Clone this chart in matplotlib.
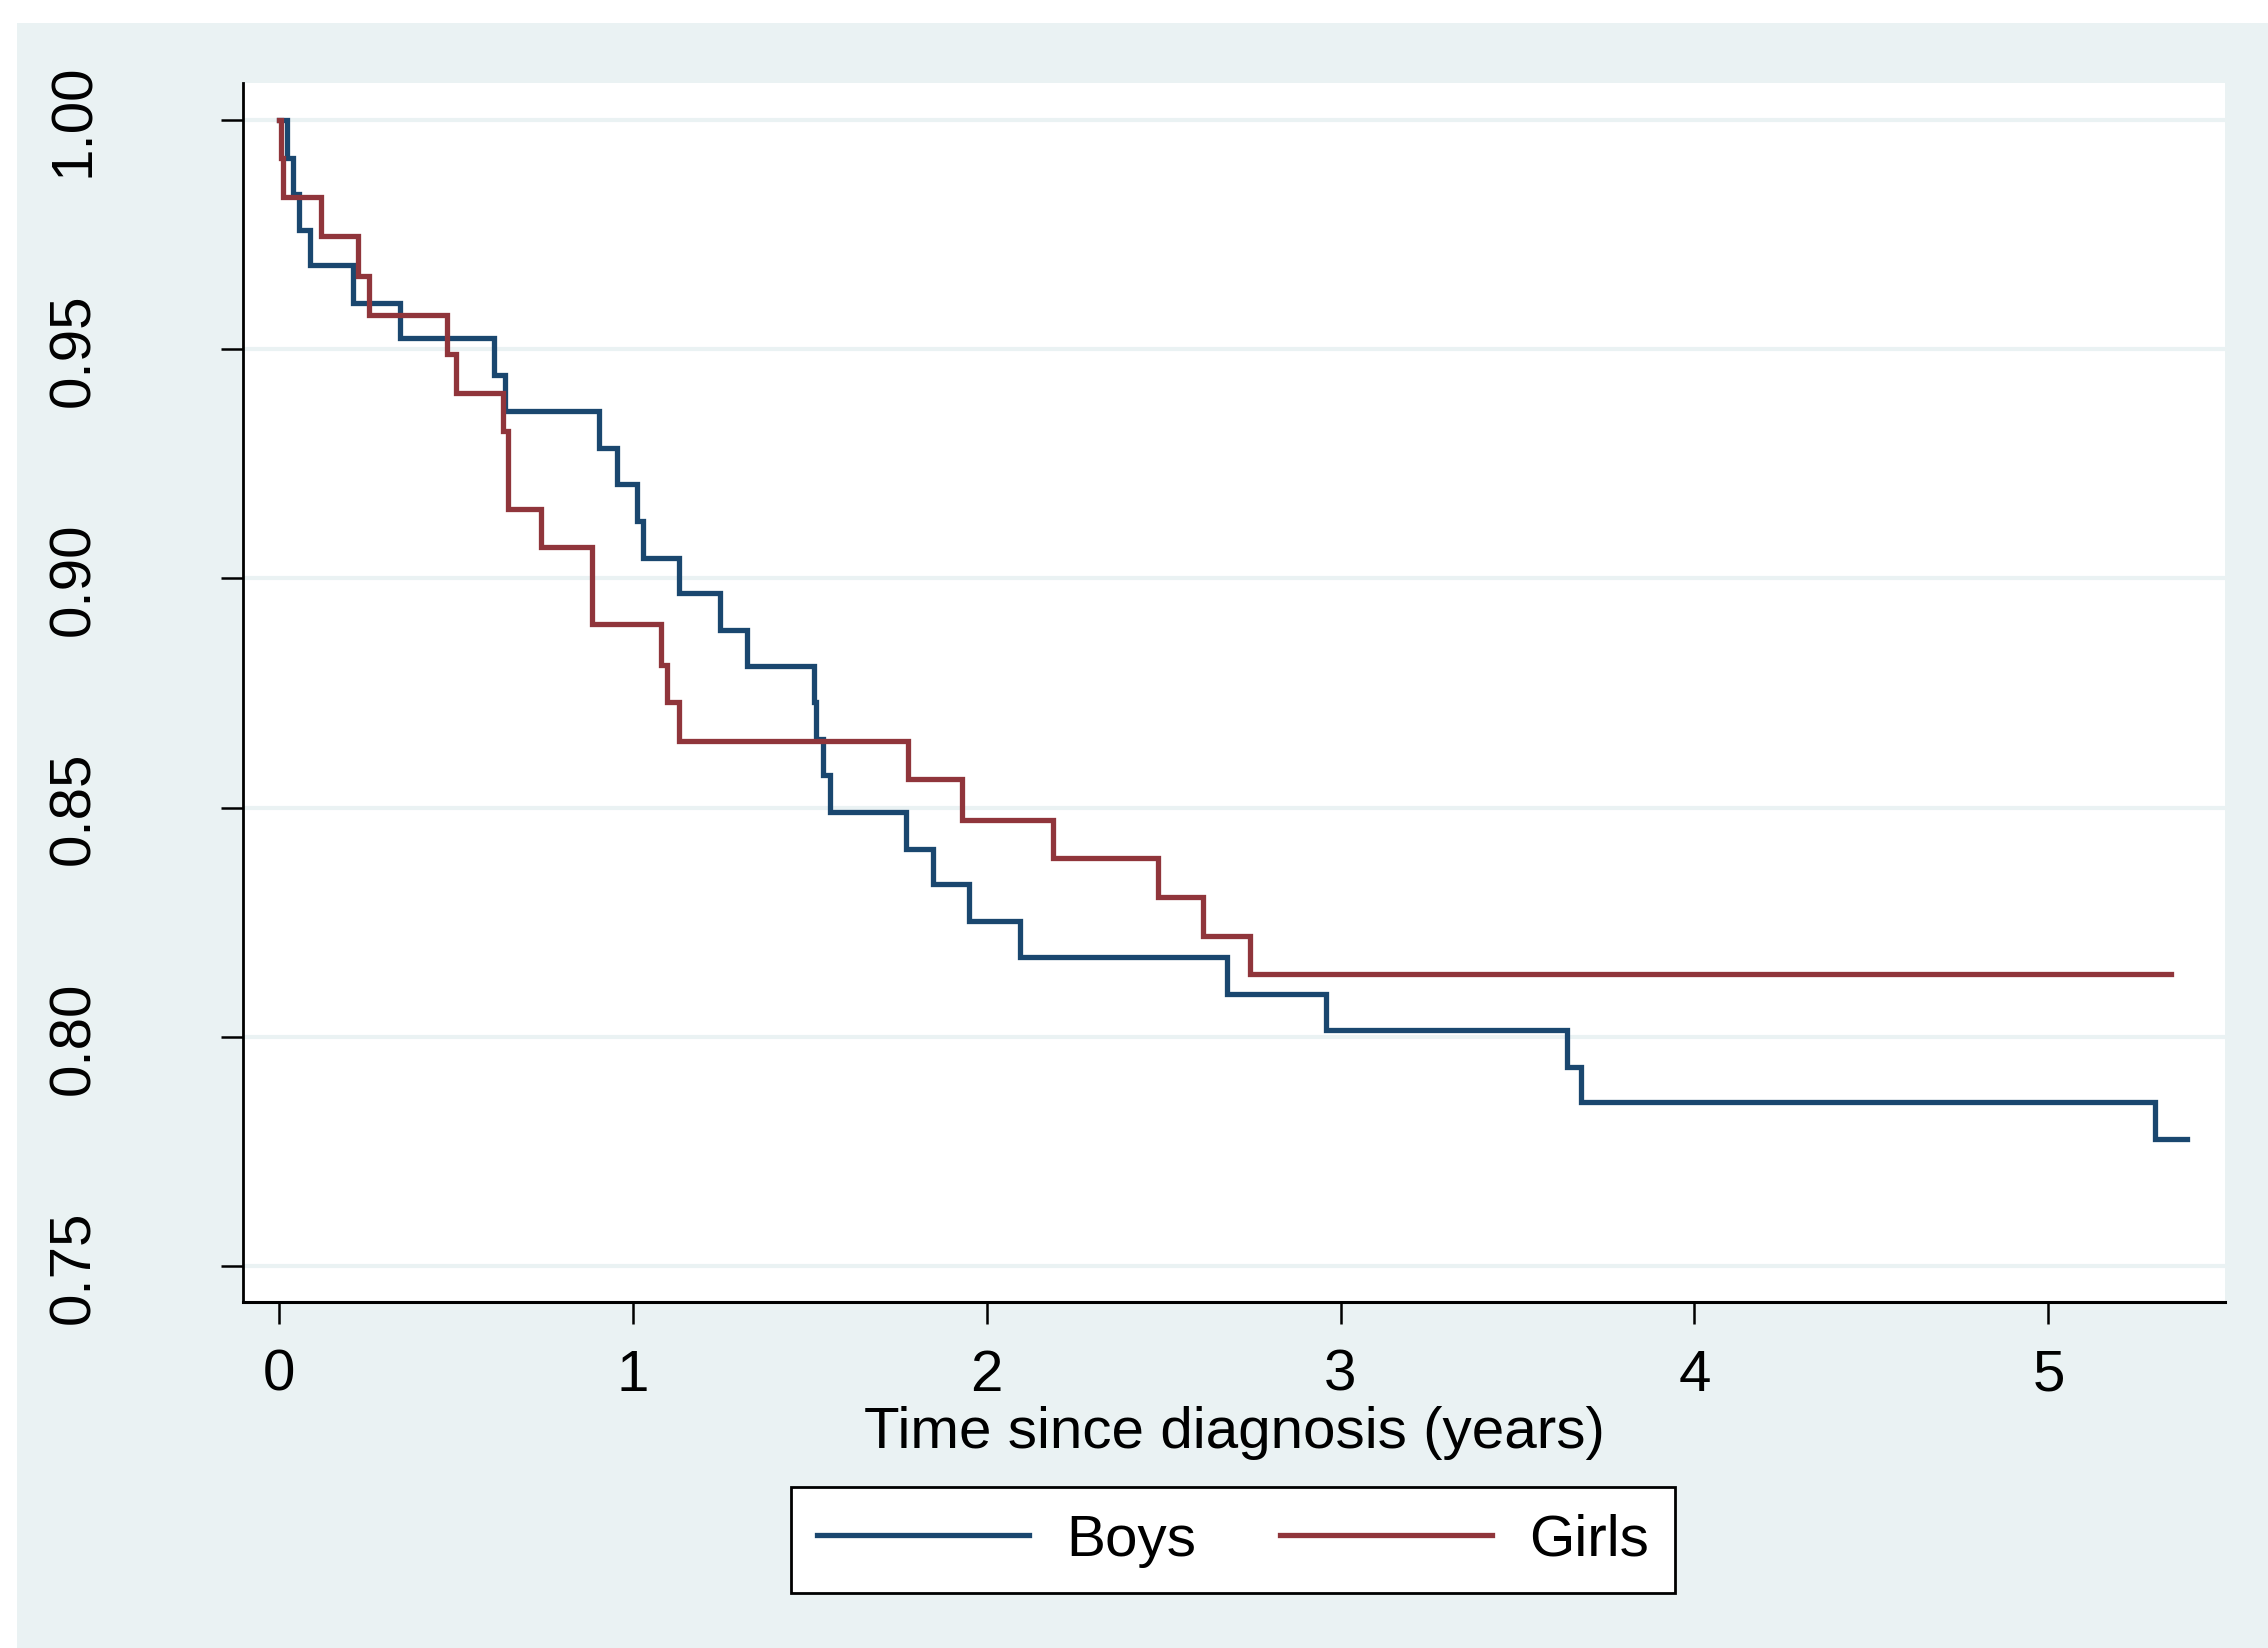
import matplotlib
matplotlib.use("Agg")
import matplotlib.pyplot as plt
from matplotlib.patches import Rectangle

# Kaplan-Meier estimates (step drops, post)
boys_time = [0.0, 0.025, 0.042, 0.059, 0.089, 0.2095, 0.343, 0.608, 0.640, 0.906,
             0.957, 1.012, 1.031, 1.132, 1.247, 1.323, 1.514, 1.518, 1.538, 1.559,
             1.773, 1.848, 1.951, 2.095, 2.680, 2.960, 3.639, 3.680, 5.302]
boys_surv = [1.0, 0.9916, 0.9838, 0.9759, 0.9682, 0.9600, 0.9524, 0.9442, 0.9364, 0.9284,
             0.9206, 0.9125, 0.9045, 0.8967, 0.8887, 0.8808, 0.8729, 0.8650, 0.8570, 0.8490,
             0.8410, 0.8333, 0.8253, 0.8175, 0.8093, 0.8015, 0.7935, 0.7857, 0.7777]
boys_end = 5.392

girls_time = [0.0, 0.006, 0.014, 0.119, 0.225, 0.2565, 0.477, 0.501, 0.635, 0.649,
              0.7415, 0.8845, 1.081, 1.0965, 1.132, 1.779, 1.930, 2.187, 2.485, 2.611, 2.744]
girls_surv = [1.0, 0.9915, 0.9830, 0.9746, 0.9658, 0.9573, 0.9489, 0.9404, 0.9320, 0.9150,
              0.9067, 0.8900, 0.8810, 0.8729, 0.8645, 0.8562, 0.8473, 0.8390, 0.8304, 0.8220, 0.8136]
girls_end = 5.345

xticks = [0, 1, 2, 3, 4, 5]
yticks = [0.75, 0.80, 0.85, 0.90, 0.95, 1.00]

NAVY = "#1A476F"
MAROON = "#90353B"
BG = "#EAF2F3"

plt.rcParams["font.family"] = ["Liberation Sans", "DejaVu Sans"]

W, H = 2268, 1649
fig = plt.figure(figsize=(W / 200, H / 200), dpi=200, facecolor="white")
fig.patches.append(Rectangle((17 / W, 0), 1 - 17 / W, 1 - 24 / H, transform=fig.transFigure,
                             facecolor=BG, edgecolor="none", zorder=-10))

ax = fig.add_axes([243 / W, 1 - 1303 / H, (2225 - 243) / W, (1303 - 84) / H])
ax.set_facecolor("white")

ax.step(boys_time + [boys_end], boys_surv + [boys_surv[-1]], where="post",
        color=NAVY, lw=1.9, label="Boys", solid_joinstyle="miter", zorder=3)
ax.step(girls_time + [girls_end], girls_surv + [girls_surv[-1]], where="post",
        color=MAROON, lw=1.9, label="Girls", solid_joinstyle="miter", zorder=3)

ax.set_xlim(-0.1003, 5.4986)
ax.set_ylim(0.7422, 1.00796)
ax.set_xticks(xticks)
ax.set_xticklabels([str(t) for t in xticks])
ax.set_yticks(yticks)
ax.set_yticklabels([f"{v:.2f}" for v in yticks], rotation=90, va="center")
ax.yaxis.grid(True, color=BG, lw=1.5, zorder=0)
ax.set_axisbelow(True)

for s in ("top", "right"):
    ax.spines[s].set_visible(False)
ax.spines["left"].set_linewidth(1.0)
ax.spines["bottom"].set_linewidth(1.1)
ax.tick_params(axis="both", length=8, width=0.9, labelsize=21, color="black")
ax.tick_params(axis="y", pad=43)
ax.tick_params(axis="x", pad=8.5)

ax.set_xlabel("Time since diagnosis (years)", fontsize=21, labelpad=1)

leg = ax.legend(loc="center", bbox_to_anchor=(1233 / W, 1 - 1541 / H), bbox_transform=fig.transFigure,
                ncol=2, fontsize=21, frameon=True, fancybox=False, handlelength=3.64,
                handletextpad=0.63, columnspacing=1.44, borderpad=0.45)
leg.get_frame().set_edgecolor("black")
leg.get_frame().set_linewidth(1.0)
leg.get_frame().set_facecolor("white")
leg.get_frame().set_alpha(1)

fig.savefig("out.png", dpi=200, facecolor=fig.get_facecolor())
